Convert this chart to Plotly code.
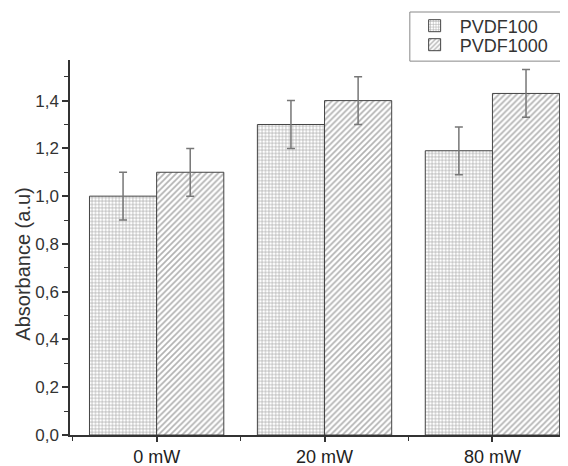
import plotly.graph_objects as go

categories = ["0 mW", "20 mW", "80 mW"]
pvdf100 = [1.00, 1.30, 1.19]
pvdf100_err = [0.10, 0.10, 0.10]
pvdf1000 = [1.10, 1.40, 1.43]
pvdf1000_err = [0.10, 0.10, 0.10]
y_ticks = [0.0, 0.2, 0.4, 0.6, 0.8, 1.0, 1.2, 1.4]
y_ticklabels = ["0,0", "0,2", "0,4", "0,6", "0,8", "1,0", "1,2", "1,4"]

xpos = list(range(len(categories)))
FONT = "Arial, Liberation Sans, sans-serif"

fig = go.Figure()
fig.add_trace(go.Bar(
    x=xpos, y=pvdf100, name="PVDF100", legend="legend",
    marker=dict(color="white",
                line=dict(color="#444", width=1),
                pattern=dict(shape="+", fgcolor="#555", bgcolor="white",
                             size=3.4, solidity=0.35, fillmode="overlay")),
    error_y=dict(type="data", array=pvdf100_err, symmetric=True,
                 color="#777", thickness=1.5, width=4),
))
fig.add_trace(go.Bar(
    x=xpos, y=pvdf1000, name="PVDF1000", legend="legend2",
    marker=dict(color="white",
                line=dict(color="#444", width=1),
                pattern=dict(shape="/", fgcolor="#666", bgcolor="white",
                             size=4.2, solidity=0.4, fillmode="overlay")),
    error_y=dict(type="data", array=pvdf1000_err, symmetric=True,
                 color="#777", thickness=1.5, width=4),
))

legend_common = dict(xanchor="left", yanchor="middle", borderwidth=0,
                     bgcolor="rgba(0,0,0,0)", itemwidth=40,
                     font=dict(family=FONT, size=18, color="#333"))

fig.update_layout(
    width=560, height=458,
    margin=dict(l=62, r=0, t=52, b=31, autoexpand=False),
    paper_bgcolor="white", plot_bgcolor="white",
    barmode="group", bargap=0.2, bargroupgap=0,
    font=dict(family=FONT, size=16, color="#333"),
    showlegend=True,
    legend=dict(x=0.682, y=1.0907, **legend_common),
    legend2=dict(x=0.682, y=1.040, **legend_common),
    xaxis=dict(range=[-0.516, 2.45], tickmode="array", tickvals=xpos,
               ticktext=categories, showgrid=False, zeroline=False,
               automargin=False,
               showline=True, linecolor="#333", linewidth=1.5,
               ticks="outside", ticklen=5, tickcolor="#333", tickwidth=1.5,
               tickfont=dict(family=FONT, size=18, color="#222"),
               minor=dict(tick0=0.5, dtick=1, ticks="outside", ticklen=4,
                          tickcolor="#333", tickwidth=1)),
    yaxis=dict(range=[0, 1.57], tickmode="array", tickvals=y_ticks,
               ticktext=y_ticklabels, showgrid=False, zeroline=False,
               automargin=False,
               showline=True, linecolor="#333", linewidth=1.5,
               ticks="outside", ticklen=6, tickcolor="#333", tickwidth=1.5,
               tickfont=dict(family=FONT, size=17, color="#333"),
               minor=dict(tick0=0.1, dtick=0.2, ticks="outside", ticklen=4,
                          tickcolor="#333", tickwidth=1)),
    shapes=[dict(type="rect", xref="paper", yref="paper",
                 x0=0.6824, x1=0.990, y0=0.997, y1=1.128,
                 line=dict(color="#888", width=1), fillcolor="rgba(0,0,0,0)")],
    annotations=[dict(text="Absorbance (a.u)", xref="paper", yref="paper",
                      x=-0.095, y=0.456, textangle=-90, showarrow=False,
                      xanchor="center", yanchor="middle",
                      font=dict(family=FONT, size=20, color="#333"))],
)

fig.write_html("out.html")
